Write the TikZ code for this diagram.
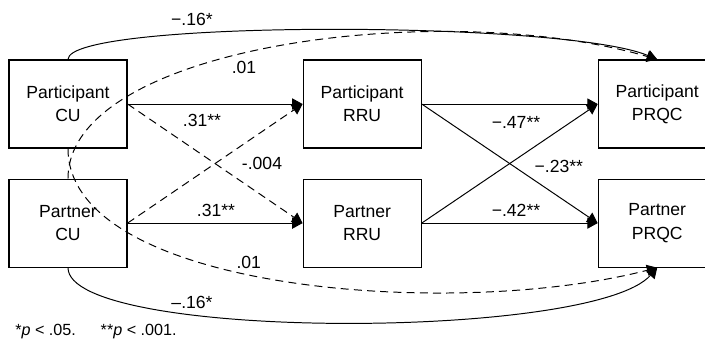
\documentclass[tikz,border=0pt]{standalone}
\usepackage{fontspec}
\setmainfont{Liberation Sans}
\usepackage{tikz}
\usetikzlibrary{positioning,arrows.meta}

\begin{document}
\begin{tikzpicture}[
  font=\fontsize{12.5}{16.5}\selectfont,
  box/.style={rectangle, draw, line width=0.8pt, minimum width=2.95cm, minimum height=2.2cm, align=center},
  arr/.style={-{Triangle[length=2.6mm, width=2.8mm]}, line width=0.7pt},
  darr/.style={arr, dash pattern=on 2mm off 1.3mm},
  lbl/.style={inner sep=1pt}
]
\useasboundingbox (0,0) rectangle (17.625,-8.5);

\node[box] (pcu) at (1.7,-2.6) {Participant\\CU};
\node[box, below=0.75cm of pcu] (ncu) {Partner\\CU};
\node[box, right=4.375cm of pcu] (prru) {Participant\\RRU};
\node[box, right=4.375cm of ncu] (nrru) {Partner\\RRU};
\node[box, right=4.4cm of prru] (pprqc) {Participant\\PRQC};
\node[box, right=4.4cm of nrru] (nprqc) {Partner\\PRQC};

% CU -> RRU
\draw[arr] (pcu.east) -- (prru.west);
\draw[arr] (ncu.east) -- (nrru.west);
\draw[darr] (pcu.east) -- (nrru.west);
\draw[darr] (ncu.east) -- (prru.west);

% RRU -> PRQC
\draw[arr] (prru.east) -- (pprqc.west);
\draw[arr] (nrru.east) -- (nprqc.west);
\draw[arr] (prru.east) -- (nprqc.west);
\draw[arr] (nrru.east) -- (pprqc.west);

% direct paths
\draw[darr] (ncu.north) .. controls +(0,3.35) and +(-5.3,1.55) .. (pprqc.north);
\draw[arr] (pcu.north) .. controls +(0,1.0) and +(-2.325,0.975) .. (pprqc.north);
\draw[darr] (pcu.south) .. controls +(0,-3.55) and +(-5.125,-1.325) .. (nprqc.south);
\draw[arr] (ncu.south) .. controls +(0,-1.825) and +(-1.625,-1.825) .. (nprqc.south);

% path labels
\node[lbl] (l1) at (4.8,-0.475) {−.16*};
\node[lbl] (l2) at (6.1,-1.68) {.01};
\node[lbl] (l3) at (5.05,-3.0) {.31**};
\node[lbl] (l4) at (6.55,-4.08) {-.004};
\node[lbl] (l5) at (5.4,-5.25) {.31**};
\node[lbl] (l6) at (6.22,-6.57) {.01};
\node[lbl] (l7) at (4.8,-7.55) {–.16*};
\node[lbl] (l8) at (12.9,-3.05) {−.47**};
\node[lbl] (l9) at (13.97,-4.15) {−.23**};
\node[lbl] (l10) at (12.9,-5.25) {−.42**};

\node[anchor=west, inner sep=0pt, font=\fontsize{11.5}{13}\selectfont] (note) at (0.375,-8.3)
  {*\textit{p} < .05.\hspace{0.62cm}**\textit{p} < .001.};
\end{tikzpicture}
\end{document}
